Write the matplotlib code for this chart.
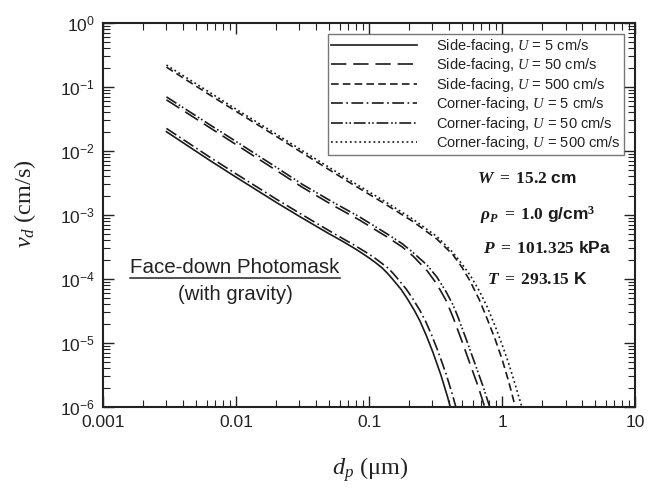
import matplotlib
matplotlib.use("Agg")
import matplotlib.pyplot as plt
from matplotlib.lines import Line2D
from matplotlib.ticker import LogLocator, FixedLocator, FuncFormatter, NullFormatter
import numpy as np

plt.rcParams['font.family'] = ['Liberation Sans', 'DejaVu Sans']
plt.rcParams['mathtext.fontset'] = 'custom'
plt.rcParams['mathtext.rm'] = 'Liberation Serif'
plt.rcParams['mathtext.it'] = 'Liberation Serif:italic'
plt.rcParams['mathtext.bf'] = 'Liberation Serif:bold'
plt.rcParams['mathtext.bfit'] = 'Liberation Serif:italic:bold'
plt.rcParams['mathtext.sf'] = 'Liberation Sans'
plt.rcParams['lines.scale_dashes'] = False

# deposition velocity (dp in um, vd in cm/s)
dp_side5 = [0.003, 0.0063, 0.01, 0.02, 0.03, 0.05, 0.063, 0.079, 0.089, 0.1, 0.112, 0.126, 0.138, 0.15, 0.174, 0.193,
            0.219, 0.242, 0.269, 0.302, 0.347, 0.389, 0.417]
vd_side5 = [0.020, 7.2e-3, 3.9e-3, 1.58e-3, 9.5e-4, 5.1e-4, 3.9e-4, 2.95e-4, 2.51e-4, 2.14e-4, 1.8e-4, 1.48e-4, 1.22e-4, 1.0e-4,
            6.9e-5, 5.0e-5, 3.24e-5, 2.19e-5, 1.32e-5, 7.2e-6, 3.16e-6, 1.45e-6, 8.5e-7]

dp_side50 = [0.003, 0.0063, 0.01, 0.02, 0.0316, 0.0537, 0.0851, 0.136, 0.178, 0.214, 0.273, 0.324, 0.38, 0.429, 0.501, 0.575, 0.661, 0.741, 0.776]
vd_side50 = [0.063, 0.0234, 0.0126, 5.0e-3, 2.7e-3, 1.41e-3, 8.3e-4, 4.57e-4, 3.16e-4, 2.29e-4, 1.35e-4, 8.3e-5, 4.6e-5, 2.5e-5, 1.05e-5, 4.7e-6, 2.1e-6, 1.0e-6, 7.4e-7]

dp_side500 = [0.003, 0.0063, 0.01, 0.02, 0.0316, 0.0684, 0.126, 0.214, 0.324, 0.427, 0.501, 0.575, 0.676, 0.776, 0.891, 1.0, 1.122, 1.259, 1.318]
vd_side500 = [0.204, 0.0759, 0.0417, 0.017, 9.3e-3, 3.4e-3, 1.58e-3, 7.9e-4, 4.2e-4, 2.4e-4, 1.51e-4, 9.3e-5, 4.7e-5, 2.34e-5, 1.12e-5, 5.6e-6, 2.5e-6, 1.0e-6, 6.8e-7]

dp_corner5 = [0.003, 0.0063, 0.01, 0.02, 0.03, 0.05, 0.079, 0.098, 0.11, 0.123, 0.139, 0.152, 0.165, 0.191, 0.212,
              0.241, 0.266, 0.296, 0.332, 0.382, 0.428, 0.459]
vd_corner5 = [0.0225, 8.1e-3, 4.4e-3, 1.78e-3, 1.07e-3, 5.7e-4, 3.3e-4, 2.51e-4, 2.14e-4, 1.8e-4, 1.48e-4, 1.22e-4, 1.0e-4,
              6.9e-5, 5.0e-5, 3.24e-5, 2.19e-5, 1.32e-5, 7.2e-6, 3.16e-6, 1.45e-6, 8.5e-7]

dp_corner50 = [0.003, 0.0063, 0.01, 0.02, 0.0316, 0.0537, 0.0851, 0.136, 0.178, 0.214, 0.273, 0.324, 0.38, 0.429, 0.468, 0.546, 0.627, 0.72, 0.808, 0.846]
vd_corner50 = [0.070, 0.026, 0.0141, 5.6e-3, 3.0e-3, 1.58e-3, 9.3e-4, 5.1e-4, 3.55e-4, 2.6e-4, 1.65e-4, 1.07e-4, 6.3e-5, 3.9e-5, 2.5e-5, 1.05e-5, 4.7e-6, 2.1e-6, 1.0e-6, 7.4e-7]

dp_corner500 = [0.003, 0.0063, 0.01, 0.02, 0.0316, 0.0684, 0.126, 0.214, 0.324, 0.427, 0.501, 0.575, 0.676, 0.776, 0.891, 1.0, 1.122, 1.259, 1.41, 1.48]
vd_corner500 = [0.22, 0.083, 0.045, 0.0184, 0.0101, 3.7e-3, 1.72e-3, 8.6e-4, 4.6e-4, 2.6e-4, 1.7e-4, 1.15e-4, 6.5e-5, 3.6e-5, 1.8e-5, 9.5e-6, 4.8e-6, 2.2e-6, 1.0e-6, 7e-7]

labels = [r'Side-facing, $U$ = 5 cm/s', r'Side-facing, $U$ = 50 cm/s', r'Side-facing, $U$ = 500 cm/s',
          r'Corner-facing, $U$ = 5 cm/s', r'Corner-facing, $U$ = 50 cm/s', r'Corner-facing, $U$ = 500 cm/s']

series = [(dp_side5, vd_side5), (dp_side50, vd_side50), (dp_side500, vd_side500),
          (dp_corner5, vd_corner5), (dp_corner50, vd_corner50), (dp_corner500, vd_corner500)]
dash_styles = ['-', (0, (11, 5)), (0, (5.5, 3)), (0, (8.5, 2.5, 1.2, 2.5)),
               (0, (8.5, 2, 1.2, 1.5, 1.2, 2)), (0, (1.3, 2.1))]

fig = plt.figure(figsize=(6.52, 4.93), dpi=100)
ax = fig.add_axes([0.158, 0.1744, 0.816, 0.779])

for (x, y), ls, lab in zip(series, dash_styles, labels):
    ax.plot(x, y, color='#1a1a1a', lw=1.2, ls=ls, label=lab)

ax.set_xscale('log')
ax.set_yscale('log')
ax.set_xlim(0.001, 10)
ax.set_ylim(1e-6, 1)

ax.xaxis.set_major_locator(FixedLocator([0.001, 0.01, 0.1, 1, 10]))
ax.xaxis.set_major_formatter(FuncFormatter(lambda v, p: ('%g' % v)))
ax.xaxis.set_minor_locator(LogLocator(base=10, subs=np.arange(2, 10), numticks=20))
ax.xaxis.set_minor_formatter(NullFormatter())
ax.yaxis.set_major_locator(FixedLocator([10.0 ** k for k in range(-6, 1)]))
ax.yaxis.set_major_formatter(FuncFormatter(lambda v, p: r'$\mathsf{10^{%d}}$' % int(round(np.log10(v)))))
ax.yaxis.set_minor_locator(LogLocator(base=10, subs=np.arange(2, 10), numticks=20))
ax.yaxis.set_minor_formatter(NullFormatter())

ax.tick_params(which='both', direction='in', top=True, right=True, color='#222222')
ax.tick_params(which='major', length=8, width=1.0, labelsize=12.5, pad=6, labelcolor='#222222')
ax.tick_params(which='minor', length=5, width=0.8)
for s in ax.spines.values():
    s.set_linewidth(1.5)
    s.set_color('#222222')

ax.set_xlabel(r'$d_p$ ($\mathrm{\mu}$m)', family='Liberation Serif', fontsize=17.5, color='#222222')
ax.set_ylabel(r'$v_d$ (cm/s)', family='Liberation Serif', fontsize=17.5, color='#222222')
ax.xaxis.set_label_coords(0.502, -0.125)
ax.yaxis.set_label_coords(-0.122, 0.53)

leg = ax.legend(loc='upper right', fontsize=10.5, handlelength=5.9, handletextpad=1.3,
                labelspacing=0.1, borderaxespad=0.75, frameon=True, fancybox=False,
                borderpad=0.2)
leg.get_frame().set_edgecolor('#555555')
leg.get_frame().set_linewidth(1.0)
for t in leg.get_texts():
    t.set_color('#222222')

par_kw = dict(transform=ax.transAxes, fontsize=12.5, fontweight='bold', va='baseline', ha='left', color='#1a1a1a')
ax.text(0.703, 0.583, r'$\mathbfit{W}\ \mathbf{=\ 15.2}$ cm', **par_kw)
ax.text(0.709, 0.487, r'$\mathbfit{\rho}_{\mathbfit{P}}\ \mathbf{=\ 1.0}$ g/cm$^{\mathbf{3}}$', **par_kw)
ax.text(0.714, 0.401, r'$\mathbfit{P}\ \mathbf{=\ 101.325}$ kPa', **par_kw)
ax.text(0.722, 0.320, r'$\mathbfit{T}\ \mathbf{=\ 293.15}$ K', **par_kw)

title = ax.text(0.248, 0.362, 'Face-down Photomask', transform=ax.transAxes, fontsize=14.8,
                ha='center', va='center', color='#222222')
ax.text(0.248, 0.292, '(with gravity)', transform=ax.transAxes, fontsize=14.6,
        ha='center', va='center', color='#222222')

fig.canvas.draw()
bb = title.get_window_extent().transformed(fig.transFigure.inverted())
fig.add_artist(Line2D([bb.x0, bb.x1], [bb.y0 - 0.001, bb.y0 - 0.001], transform=fig.transFigure,
                      color='#222222', lw=1.1))

fig.savefig('out.png', dpi=100)
